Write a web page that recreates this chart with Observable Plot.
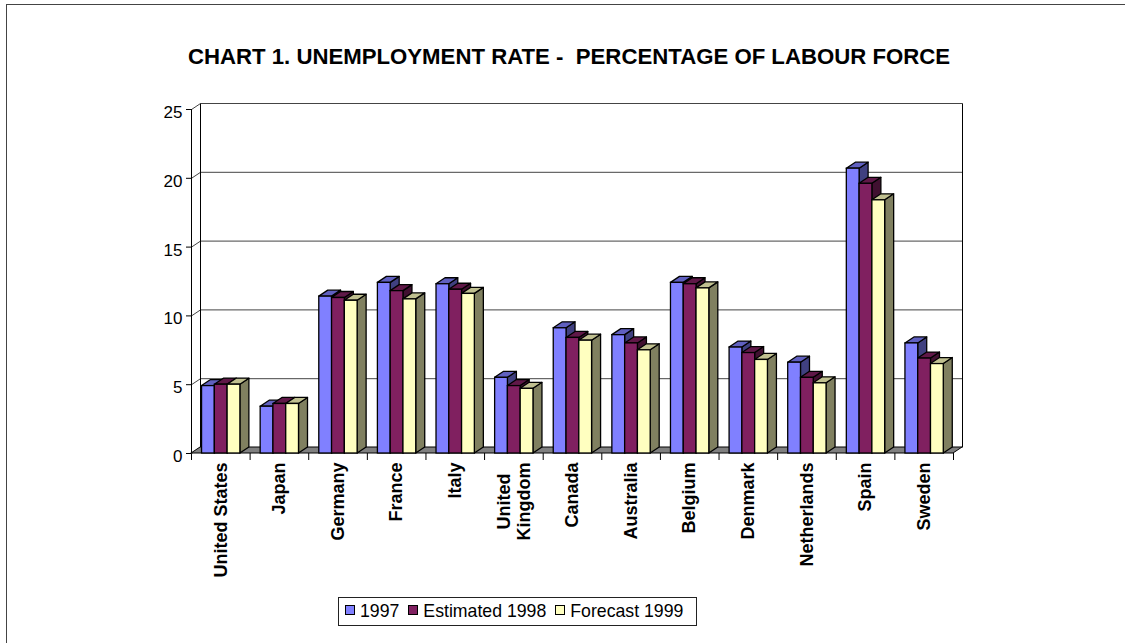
<!DOCTYPE html>
<html>
<head>
<meta charset="utf-8">
<script src="https://cdn.jsdelivr.net/npm/d3@7"></script>
<script src="https://cdn.jsdelivr.net/npm/@observablehq/plot@0.6"></script>
<style>
  body { margin: 0; background: #fff; font-family: Arial, "Liberation Sans", sans-serif; }
  #wrap { position: relative; width: 1125px; height: 643px; overflow: hidden; background: #fff; }
  #frame { position: absolute; left: 6px; top: 4px; width: 1300px; height: 900px;
           border-left: 1.5px solid #444; border-top: 1.5px solid #444; }
  #chart { position: absolute; left: 0; top: 0; }
  #title { position: absolute; left: 0; top: 46px; width: 1138px; text-align: center;
           font-weight: bold; font-size: 22.2px; line-height: 22px; white-space: pre; color: #000; }
  #legend { position: absolute; left: 338px; top: 597px; width: 359px; height: 29px;
            border: 1px solid #222; box-sizing: border-box; display: flex; align-items: center;
            padding-left: 6px; font-size: 17.7px; color: #000; white-space: nowrap; }
  #legend .sw { display: inline-block; width: 8px; height: 8px; border: 1.5px solid #000;
                margin-right: 5px; position: relative; top: -2px; }
  #legend .it { display: flex; align-items: center; margin-right: 9px; }
</style>
</head>
<body>
<div id="wrap">
  <div id="frame"></div>
  <div id="chart"></div>
  <div id="title"></div>
  <div id="legend"></div>
</div>
<script>
// ---------------- data ----------------
const titleText = "CHART 1. UNEMPLOYMENT RATE -  PERCENTAGE OF LABOUR FORCE";
const countries = ["United States", "Japan", "Germany", "France", "Italy", "United\nKingdom",
  "Canada", "Australia", "Belgium", "Denmark", "Netherlands", "Spain", "Sweden"];
const seriesNames = ["1997", "Estimated 1998", "Forecast 1999"];
const v1997 = [4.9, 3.4, 11.4, 12.4, 12.3, 5.5, 9.1, 8.6, 12.4, 7.7, 6.6, 20.7, 8.0];
const v1998 = [5.0, 3.6, 11.3, 11.8, 11.9, 4.9, 8.4, 8.0, 12.3, 7.3, 5.5, 19.6, 6.9];
const v1999 = [5.0, 3.6, 11.1, 11.2, 11.6, 4.7, 8.2, 7.5, 12.0, 6.8, 5.1, 18.4, 6.5];
const yTicks = [0, 5, 10, 15, 20, 25];

// ---------------- styling ----------------
const frontColors = ["#8080FF", "#802060", "#FFFFC0"];
const topColors   = ["#6060C0", "#601848", "#C0C090"];
const sideColors  = ["#404080", "#401030", "#808060"];
const floorColor = "#808080";
const gridColor = "#444";

const W = 1125, H = 643;
const mL = 191, mR = 172, mT = 109, mB = 190;
const yMax = 25;
const nCat = countries.length;
const pxPerX = (W - mL - mR) / nCat;
const pxPerY = (H - mT - mB) / yMax;
const dX = 9 / pxPerX;   // depth offset, data units
const dY = 6 / pxPerY;
const groupOffset = 0.18, barW = 0.218;

const seriesValues = [v1997, v1998, v1999];

// build bars
const bars = [];
seriesValues.forEach((vals, j) => {
  vals.forEach((v, i) => {
    const xl = i + groupOffset + j * barW;
    bars.push({ id: j + "-" + i, j, i, v, xl, xr: xl + barW });
  });
});

function sidePts(b) {
  return [
    { id: b.id, x: b.xr, y1: 0, y2: b.v },
    { id: b.id, x: b.xr + dX, y1: dY, y2: b.v + dY }
  ];
}
function topPts(b) {
  return [
    { id: b.id, x: b.xl, y1: b.v, y2: b.v },
    { id: b.id, x: b.xl + dX, y1: b.v, y2: b.v + dY },
    { id: b.id, x: b.xr, y1: b.v, y2: b.v + dY },
    { id: b.id, x: b.xr + dX, y1: b.v + dY, y2: b.v + dY }
  ];
}
const floorPts = [
  { id: "f", x: 0, y1: 0, y2: 0 },
  { id: "f", x: dX, y1: 0, y2: dY },
  { id: "f", x: nCat, y1: 0, y2: dY },
  { id: "f", x: nCat + dX, y1: dY, y2: dY }
];

const marks = [];
// back wall grid
marks.push(Plot.link(yTicks.filter(t => t > 0), {
  x1: () => dX, x2: () => nCat + dX, y1: t => t + dY, y2: t => t + dY,
  stroke: gridColor, strokeWidth: 1
}));
// left wall slants
marks.push(Plot.link(yTicks, {
  x1: () => 0, x2: () => dX, y1: t => t, y2: t => t + dY,
  stroke: gridColor, strokeWidth: 1
}));
// back wall vertical edges
marks.push(Plot.link([0, nCat], {
  x1: d => d + dX, x2: d => d + dX, y1: () => dY, y2: () => yMax + dY,
  stroke: "#000", strokeWidth: 1
}));
// front y axis line
marks.push(Plot.ruleX([0], { stroke: "#000", strokeWidth: 1 }));
// y tick labels
marks.push(Plot.text(yTicks, {
  x: () => 0, y: t => t, text: t => String(t), textAnchor: "end", dx: -9, dy: 3,
  fontSize: 17, fill: "#000"
}));
// floor
marks.push(Plot.areaY(floorPts, {
  x: "x", y1: "y1", y2: "y2", z: "id", fill: floorColor, stroke: "#000", strokeWidth: 1
}));
// bars by series
for (let j = 0; j < 3; j++) {
  const bs = bars.filter(b => b.j === j);
  marks.push(Plot.areaY(bs.flatMap(sidePts), {
    x: "x", y1: "y1", y2: "y2", z: "id", fill: sideColors[j], stroke: "#000", strokeWidth: 1.3
  }));
  marks.push(Plot.areaY(bs.flatMap(topPts), {
    x: "x", y1: "y1", y2: "y2", z: "id", fill: topColors[j], stroke: "#000", strokeWidth: 1.3
  }));
  marks.push(Plot.rect(bs, {
    x1: "xl", x2: "xr", y1: () => 0, y2: "v", fill: frontColors[j], stroke: "#000", strokeWidth: 1.3
  }));
}

// category labels
const labelFont = "bold 18px Arial, 'Liberation Sans', sans-serif";
const cats = countries.map((name, i) => ({ name, i }));
const singles = cats.filter(c => !c.name.includes("\n"));
const multis = cats.filter(c => c.name.includes("\n"));
const ctx = document.createElement("canvas").getContext("2d");
ctx.font = labelFont;
marks.push(Plot.text(singles, {
  x: d => d.i + 0.5, y: () => 0, text: "name", rotate: -90, textAnchor: "end",
  dy: 9, fontSize: 18, fontWeight: "bold", fill: "#000"
}));
multis.forEach(c => {
  const L = d3.max(c.name.split("\n"), s => ctx.measureText(s).width);
  marks.push(Plot.text([c], {
    x: d => d.i + 0.5, y: () => 0, text: "name", rotate: -90, textAnchor: "middle",
    lineHeight: 1.12, dy: 9 + L / 2, fontSize: 18, fontWeight: "bold", fill: "#000"
  }));
});

const chart = Plot.plot({
  width: W, height: H,
  marginLeft: mL, marginRight: mR, marginTop: mT, marginBottom: mB,
  style: { fontSize: "17px", fontFamily: "Arial, 'Liberation Sans', sans-serif", color: "#000", background: "transparent" },
  x: { domain: [0, nCat], ticks: d3.range(nCat + 1), tickSize: 7, tickFormat: () => "", label: null },
  y: { domain: [0, yMax], ticks: yTicks, tickSize: 5, tickFormat: () => "", label: null },
  marks
});
document.getElementById("chart").appendChild(chart);

document.getElementById("title").textContent = titleText;
const leg = d3.select("#legend");
seriesNames.forEach((s, j) => {
  const it = leg.append("span").attr("class", "it");
  it.append("span").attr("class", "sw").style("background", frontColors[j]);
  it.append("span").text(s);
});
</script>
</body>
</html>
